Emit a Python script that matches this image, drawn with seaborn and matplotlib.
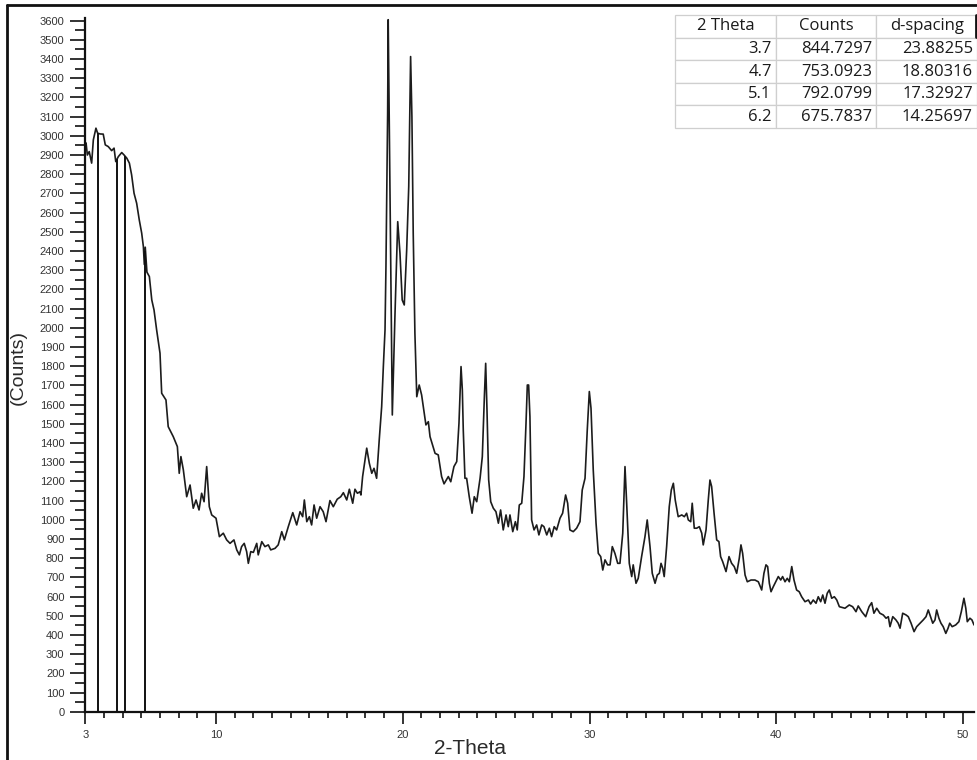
import numpy as np
import pandas as pd
import matplotlib
matplotlib.use("Agg")
import matplotlib.pyplot as plt
import seaborn as sns
from matplotlib.ticker import MultipleLocator, FixedLocator
from matplotlib.lines import Line2D

# Diffractogram: scan angle (2-Theta, degrees) and detector counts
two_theta = [
    3.00, 3.04, 3.11, 3.21, 3.34, 3.43, 3.57, 3.66, 3.79, 3.96, 4.07, 4.23, 4.41, 4.54,
    4.63, 4.77, 4.95, 5.07, 5.22, 5.36, 5.48, 5.61, 5.75, 5.89, 6.02, 6.11, 6.16, 6.21,
    6.30, 6.43, 6.56, 6.68, 6.82, 7.00, 7.09, 7.32, 7.44, 7.71, 7.93, 8.03, 8.12, 8.25,
    8.43, 8.61, 8.78, 8.93, 9.09, 9.23, 9.36, 9.50, 9.64, 9.77, 10.00, 10.18, 10.39,
    10.57, 10.75, 10.96, 11.11, 11.25, 11.37, 11.51, 11.64, 11.73, 11.86, 12.00, 12.18,
    12.26, 12.45, 12.62, 12.80, 12.93, 13.16, 13.33, 13.52, 13.66, 13.87, 14.11, 14.32,
    14.50, 14.64, 14.73, 14.86, 15.00, 15.12, 15.25, 15.39, 15.57, 15.74, 15.89, 16.10,
    16.28, 16.49, 16.68, 16.82, 17.00, 17.14, 17.32, 17.44, 17.57, 17.71, 17.76, 17.85,
    18.07, 18.21, 18.34, 18.46, 18.60, 18.74, 18.87, 18.96, 19.05, 19.10, 19.19, 19.22,
    19.32, 19.41, 19.44, 19.58, 19.73, 19.85, 19.97, 20.08, 20.21, 20.32, 20.42, 20.49,
    20.56, 20.65, 20.75, 20.88, 21.01, 21.24, 21.37, 21.46, 21.73, 21.90, 22.08, 22.21,
    22.44, 22.57, 22.74, 22.89, 23.01, 23.12, 23.19, 23.24, 23.33, 23.42, 23.56, 23.71,
    23.83, 23.96, 24.14, 24.26, 24.37, 24.44, 24.51, 24.60, 24.71, 24.85, 24.99, 25.12,
    25.24, 25.38, 25.53, 25.65, 25.74, 25.89, 26.03, 26.13, 26.24, 26.37, 26.49, 26.60,
    26.67, 26.74, 26.81, 26.90, 27.03, 27.17, 27.29, 27.44, 27.56, 27.71, 27.85, 27.97,
    28.11, 28.24, 28.42, 28.56, 28.72, 28.83, 28.95, 29.13, 29.31, 29.49, 29.61, 29.76,
    29.88, 29.99, 30.08, 30.20, 30.35, 30.47, 30.60, 30.71, 30.83, 30.97, 31.10, 31.22,
    31.36, 31.51, 31.63, 31.78, 31.90, 31.99, 32.13, 32.26, 32.34, 32.49, 32.61, 32.79,
    32.97, 33.09, 33.24, 33.36, 33.51, 33.63, 33.74, 33.83, 33.92, 34.00, 34.13, 34.27,
    34.38, 34.49, 34.59, 34.75, 34.94, 35.08, 35.20, 35.29, 35.42, 35.50, 35.61, 35.74,
    35.88, 36.01, 36.09, 36.24, 36.36, 36.45, 36.54, 36.67, 36.81, 36.93, 37.02, 37.13,
    37.31, 37.47, 37.61, 37.75, 37.88, 38.02, 38.11, 38.20, 38.33, 38.45, 38.65, 38.86,
    39.04, 39.22, 39.34, 39.45, 39.54, 39.63, 39.72, 39.84, 39.97, 40.11, 40.24, 40.34,
    40.47, 40.59, 40.70, 40.83, 40.95, 41.09, 41.23, 41.36, 41.54, 41.72, 41.84, 41.98,
    42.13, 42.25, 42.38, 42.49, 42.61, 42.73, 42.84, 42.97, 43.11, 43.24, 43.38, 43.68,
    43.91, 44.09, 44.27, 44.39, 44.58, 44.79, 44.97, 45.11, 45.23, 45.38, 45.55, 45.73,
    45.88, 46.00, 46.09, 46.24, 46.41, 46.53, 46.63, 46.77, 46.95, 47.07, 47.22, 47.38,
    47.52, 47.70, 47.87, 48.02, 48.14, 48.23, 48.38, 48.50, 48.59, 48.71, 48.82, 48.94,
    49.08, 49.20, 49.29, 49.42, 49.61, 49.78, 49.91, 50.05, 50.15, 50.23, 50.37, 50.48,
    50.59,
]
counts = [
    2960, 2963, 2900, 2918, 2858, 2979, 3040, 3014, 3010, 3009, 2953, 2944, 2923, 2936,
    2866, 2892, 2913, 2901, 2884, 2858, 2797, 2701, 2649, 2562, 2493, 2423, 2330, 2420,
    2290, 2267, 2145, 2093, 1989, 1868, 1659, 1624, 1485, 1433, 1381, 1242, 1329, 1260,
    1120, 1181, 1060, 1103, 1051, 1138, 1094, 1277, 1068, 1025, 1008, 912, 930,
    895, 877, 895, 843, 817, 860, 877, 834, 773, 834, 830, 877,
    817, 886, 860, 869, 843, 851, 869, 938, 895, 964, 1037, 973,
    1042, 1016, 1103, 990, 1016, 973, 1077, 1008, 1068, 1042, 990, 1100,
    1068, 1107, 1120, 1141, 1103, 1159, 1086, 1159, 1138, 1146, 1129, 1225,
    1373, 1294, 1242, 1268, 1216, 1416, 1589, 1798, 1989, 2319, 3118, 3605,
    2667, 1798, 1546, 2058, 2553, 2389, 2145, 2119, 2406, 2736, 3413, 3100,
    2493, 1972, 1641, 1702, 1650, 1494, 1511, 1433, 1346, 1338, 1225, 1187,
    1225, 1198, 1277, 1303, 1503, 1798, 1676, 1468, 1216, 1216, 1120, 1034,
    1120, 1094, 1216, 1329, 1641, 1815, 1572, 1208, 1094, 1060, 1042, 982,
    1051, 947, 1025, 964, 1025, 938, 990, 947, 1077, 1086, 1225, 1503,
    1702, 1702, 1537, 999, 947, 973, 921, 973, 964, 921, 956, 912,
    964, 947, 1008, 1034, 1129, 1086, 947, 938, 956, 990, 1155, 1216,
    1468, 1668, 1581, 1260, 982, 825, 808, 738, 791, 765, 765, 860,
    825, 773, 773, 930, 1277, 1086, 773, 704, 765, 669, 695, 808,
    912, 999, 860, 721, 669, 712, 721, 773, 747, 704, 860, 1068,
    1155, 1190, 1103, 1016, 1025, 1016, 1034, 999, 990, 1086, 956, 956,
    964, 930, 869, 947, 1103, 1207, 1173, 1034, 895, 886, 808, 782,
    730, 808, 773, 756, 721, 799, 869, 825, 712, 677, 686, 686,
    677, 634, 721, 765, 756, 669, 625, 651, 677, 704, 686, 704,
    677, 695, 677, 756, 686, 634, 625, 599, 573, 582, 561, 582,
    565, 599, 573, 608, 565, 617, 634, 591, 599, 582, 547, 539,
    556, 547, 521, 551, 521, 495, 547, 568, 513, 539, 513, 504,
    487, 495, 443, 495, 478, 461, 435, 513, 504, 495, 461, 417,
    443, 461, 478, 495, 530, 504, 461, 478, 530, 487, 461, 443,
    408, 435, 461, 443, 452, 469, 521, 591, 539, 469, 487, 478,
    452,
]

# Peak search results
peak_two_theta = [3.7, 4.7, 5.1, 6.2]
peak_counts = [844.7297, 753.0923, 792.0799, 675.7837]
peak_d_spacing = [23.88255, 18.80316, 17.32927, 14.25697]
table_header = ["2 Theta", "Counts", "d-spacing"]

x_major_ticks = [3, 10, 20, 30, 40, 50]

W, H = 977, 760

sns.set_theme(style="white")
plt.rcParams["font.family"] = ["Liberation Sans", "DejaVu Sans"]

fig = plt.figure(figsize=(W / 100, H / 100), dpi=100)
fig.patch.set_facecolor("white")

# Main plotting area (pixel box -> figure fraction)
x0, x1 = 85.3, 974.2
y_top, y_bot = 18.0, 711.7
ax = fig.add_axes([x0 / W, 1 - y_bot / H, (x1 - x0) / W, (y_bot - y_top) / H])
ax.set_facecolor("white")

df = pd.DataFrame({"2-Theta": two_theta, "Counts": counts})
sns.lineplot(data=df, x="2-Theta", y="Counts", ax=ax, color="#1c1c1c",
             linewidth=1.2, sort=False, estimator=None)

# Drop lines from the baseline up to the pattern at each listed peak
peak_tops = np.interp(peak_two_theta, two_theta, counts)
ax.vlines(peak_two_theta, 0, peak_tops, color="#111111", linewidth=1.4)

ax.set_xlim(3, 50.6)
ax.set_ylim(0, 3614)

for side in ["top", "right"]:
    ax.spines[side].set_visible(False)
for side in ["left", "bottom"]:
    ax.spines[side].set_color("#111111")
    ax.spines[side].set_linewidth(1.6)

ax.xaxis.set_major_locator(FixedLocator(x_major_ticks))
ax.xaxis.set_minor_locator(MultipleLocator(1))
ax.yaxis.set_major_locator(MultipleLocator(100))
ax.yaxis.set_minor_locator(MultipleLocator(50))
ax.set_xticklabels([str(t) for t in x_major_ticks])

ax.tick_params(axis="y", which="major", direction="out", length=10.5, width=1.2,
               color="#111111", labelsize=8, labelcolor="#333333", pad=4.5, left=True)
ax.tick_params(axis="y", which="minor", direction="out", length=7, width=1.2,
               color="#111111", left=True)
ax.tick_params(axis="x", which="major", direction="out", length=8.5, width=1.2,
               color="#111111", labelsize=8, labelcolor="#333333", pad=5, bottom=True)
ax.tick_params(axis="x", which="minor", direction="out", length=4.5, width=1.2,
               color="#111111", bottom=True)

ax.set_xlabel("")
ax.set_ylabel("")
fig.text(18 / W, 1 - 368 / H, "(Counts)", rotation=90, ha="center", va="center",
         fontsize=14, color="#2a2a2a")
fig.text(470 / W, 1 - 748 / H, "2-Theta", ha="center", va="center",
         fontsize=15, color="#2a2a2a")

# Peak table in the upper right corner
tx0, tx1, ty0, ty1 = 675, 977, 15, 128
tax = fig.add_axes([tx0 / W, 1 - ty1 / H, (tx1 - tx0) / W, (ty1 - ty0) / H])
tax.axis("off")
cell_text = [[str(a), str(b), str(c)]
             for a, b, c in zip(peak_two_theta, peak_counts, peak_d_spacing)]
tbl = tax.table(cellText=[table_header] + cell_text, bbox=[0, 0, 1, 1],
                cellLoc="right", edges="closed")
tbl.auto_set_font_size(False)
for (r, c), cell in tbl.get_celld().items():
    cell.set_edgecolor("#cfcfcf")
    cell.set_linewidth(0.9)
    cell.set_facecolor("white")
    txt = cell.get_text()
    txt.set_fontsize(12)
    txt.set_fontfamily(["Open Sans", "DejaVu Sans"])
    txt.set_color("#1a1a1a")
    if r == 0:
        txt.set_horizontalalignment("center")
        cell.PAD = 0.0
    else:
        cell.PAD = 0.04

# Frame lines around the picture and the selected header cell edge
frame_kw = dict(transform=fig.transFigure, color="#111111", linewidth=2.0)
fig.add_artist(Line2D([7 / W, 7 / W], [0, 1 - 5 / H], **frame_kw))
fig.add_artist(Line2D([7 / W, 1.0], [1 - 5 / H, 1 - 5 / H], **frame_kw))
fig.add_artist(Line2D([975.5 / W, 975.5 / W], [1 - 15 / H, 1 - 37 / H], **frame_kw))

fig.savefig("out.png", dpi=100, facecolor="white")
